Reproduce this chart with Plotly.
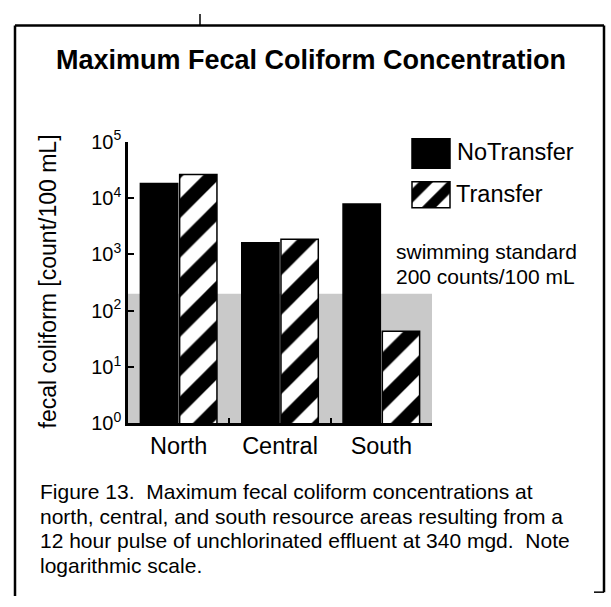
import plotly.graph_objects as go

# ─── Data ────────────────────────────────────────────────────────────────────
AREAS = ["North", "Central", "South"]
NO_TRANSFER = [18000, 1600, 7800]
TRANSFER = [26000, 1850, 43]
SWIM_STANDARD = 200  # counts/100 mL

Y_TICK_VALS = [1, 10, 100, 1000, 10000, 100000]
Y_TICK_TEXT = ["10<sup>0</sup>", "10<sup>1</sup>", "10<sup>2</sup>",
               "10<sup>3</sup>", "10<sup>4</sup>", "10<sup>5</sup>"]

TITLE = "Maximum Fecal Coliform Concentration"
Y_TITLE = "fecal coliform [count/100 mL]"
STANDARD_LABEL = ["swimming standard", "200 counts/100 mL"]
CAPTION_LINES = [
    "Figure 13.\u00a0 Maximum fecal coliform concentrations at",
    "north, central, and south resource areas resulting from a",
    "12 hour pulse of unchlorinated effluent at 340 mgd.\u00a0 Note",
    "logarithmic scale.",
]

# ─── Styling ─────────────────────────────────────────────────────────────────
W, H = 611, 607
FONT = "Liberation Sans, Arial, Helvetica, sans-serif"
BAND_COLOR = "#c9c9c9"
HATCH = dict(shape="/", fgcolor="black", bgcolor="white", fgopacity=1,
             fillmode="replace", solidity=0.5)


def fx(px):
    return px / W


def fy(py):
    return 1 - py / H


fig = go.Figure()

fig.add_trace(go.Bar(
    x=AREAS, y=NO_TRANSFER, name="NoTransfer",
    marker=dict(color="black", line=dict(color="black", width=1.5)),
))
fig.add_trace(go.Bar(
    x=AREAS, y=TRANSFER, name="Transfer",
    marker=dict(color="white", line=dict(color="black", width=1.5),
                pattern=dict(HATCH, size=28)),
))

# legend swatches, drawn on a full-page pixel axis
fig.add_trace(go.Bar(
    x=[431], y=[31], base=[130], width=[38],
    xaxis="x2", yaxis="y2", hoverinfo="skip", offset=-19,
    marker=dict(color="black", line=dict(color="black", width=1.5)),
))
fig.add_trace(go.Bar(
    x=[431], y=[27], base=[175], width=[38],
    xaxis="x2", yaxis="y2", hoverinfo="skip", offset=-19,
    marker=dict(color="white", line=dict(color="black", width=1.5),
                pattern=dict(HATCH, size=20)),
))

# swimming standard band
fig.add_shape(type="rect", xref="x", yref="y", x0=-0.5, x1=2.5, y0=1, y1=SWIM_STANDARD,
              fillcolor=BAND_COLOR, line=dict(width=0), layer="below")

# page frame
frame = dict(color="black", width=2.5)
fig.add_shape(type="line", xref="paper", yref="paper", x0=fx(15), x1=fx(604), y0=fy(12), y1=fy(12), line=frame)
fig.add_shape(type="line", xref="paper", yref="paper", x0=fx(15), x1=fx(15), y0=fy(12), y1=fy(607), line=frame)
fig.add_shape(type="line", xref="paper", yref="paper", x0=fx(604), x1=fx(604), y0=fy(12), y1=fy(603), line=frame)
fig.add_shape(type="line", xref="paper", yref="paper", x0=fx(200), x1=fx(200), y0=fy(0), y1=fy(12), line=dict(color="black", width=1.5))
fig.add_shape(type="line", xref="paper", yref="paper", x0=fx(594), x1=fx(604), y0=fy(603), y1=fy(603), line=dict(color="black", width=1.5))

ann = [
    dict(text="<b>" + TITLE + "</b>", x=fx(311), y=fy(48), xanchor="center",
         font=dict(size=27)),
    dict(text=Y_TITLE, x=fx(48), y=fy(279), xanchor="center", textangle=-90,
         font=dict(size=23)),
    dict(text="NoTransfer", x=fx(455), y=fy(144), xanchor="left", font=dict(size=23.5)),
    dict(text="Transfer", x=fx(454), y=fy(188), xanchor="left", font=dict(size=23.5)),
    dict(text=STANDARD_LABEL[0], x=fx(394), y=fy(248), xanchor="left", font=dict(size=21)),
    dict(text=STANDARD_LABEL[1], x=fx(394), y=fy(274), xanchor="left", font=dict(size=21)),
]
for i, line in enumerate(CAPTION_LINES):
    ann.append(dict(text=line, x=fx(38), y=fy(498 + 25.8 * i), xanchor="left", font=dict(size=21)))
for a in ann:
    a.update(xref="paper", yref="paper", yanchor="middle", showarrow=False)

fig.update_layout(
    width=W, height=H,
    margin=dict(l=0, r=0, t=0, b=0),
    paper_bgcolor="white",
    plot_bgcolor="rgba(0,0,0,0)",
    font=dict(family=FONT, color="black", size=20),
    barmode="group",
    bargap=0.225,
    bargroupgap=0.05,
    showlegend=False,
    annotations=ann,
    xaxis=dict(
        domain=[fx(128), fx(432)],
        type="category",
        range=[-0.5, 2.5],
        showline=True, linecolor="black", linewidth=2.5,
        ticks="inside", tickson="boundaries", ticklen=6, tickwidth=2, tickcolor="black",
        showgrid=False, zeroline=False,
        tickfont=dict(size=23.5),
    ),
    yaxis=dict(
        domain=[fy(427), fy(133)],
        type="log",
        range=[0, 5],
        tickvals=Y_TICK_VALS, ticktext=Y_TICK_TEXT,
        showline=True, linecolor="black", linewidth=2.5,
        ticks="inside", ticklen=6, tickwidth=2, tickcolor="black",
        showgrid=False, zeroline=False,
        tickfont=dict(size=20),
    ),
    xaxis2=dict(domain=[0, 1], range=[0, W], visible=False, anchor="y2"),
    yaxis2=dict(domain=[0, 1], range=[H, 0], visible=False, anchor="x2"),
)

fig.write_html(
    "out.html",
    config={"responsive": False, "displayModeBar": False},
    post_script="document.body.style.margin='0';document.body.style.overflow='hidden';",
)
